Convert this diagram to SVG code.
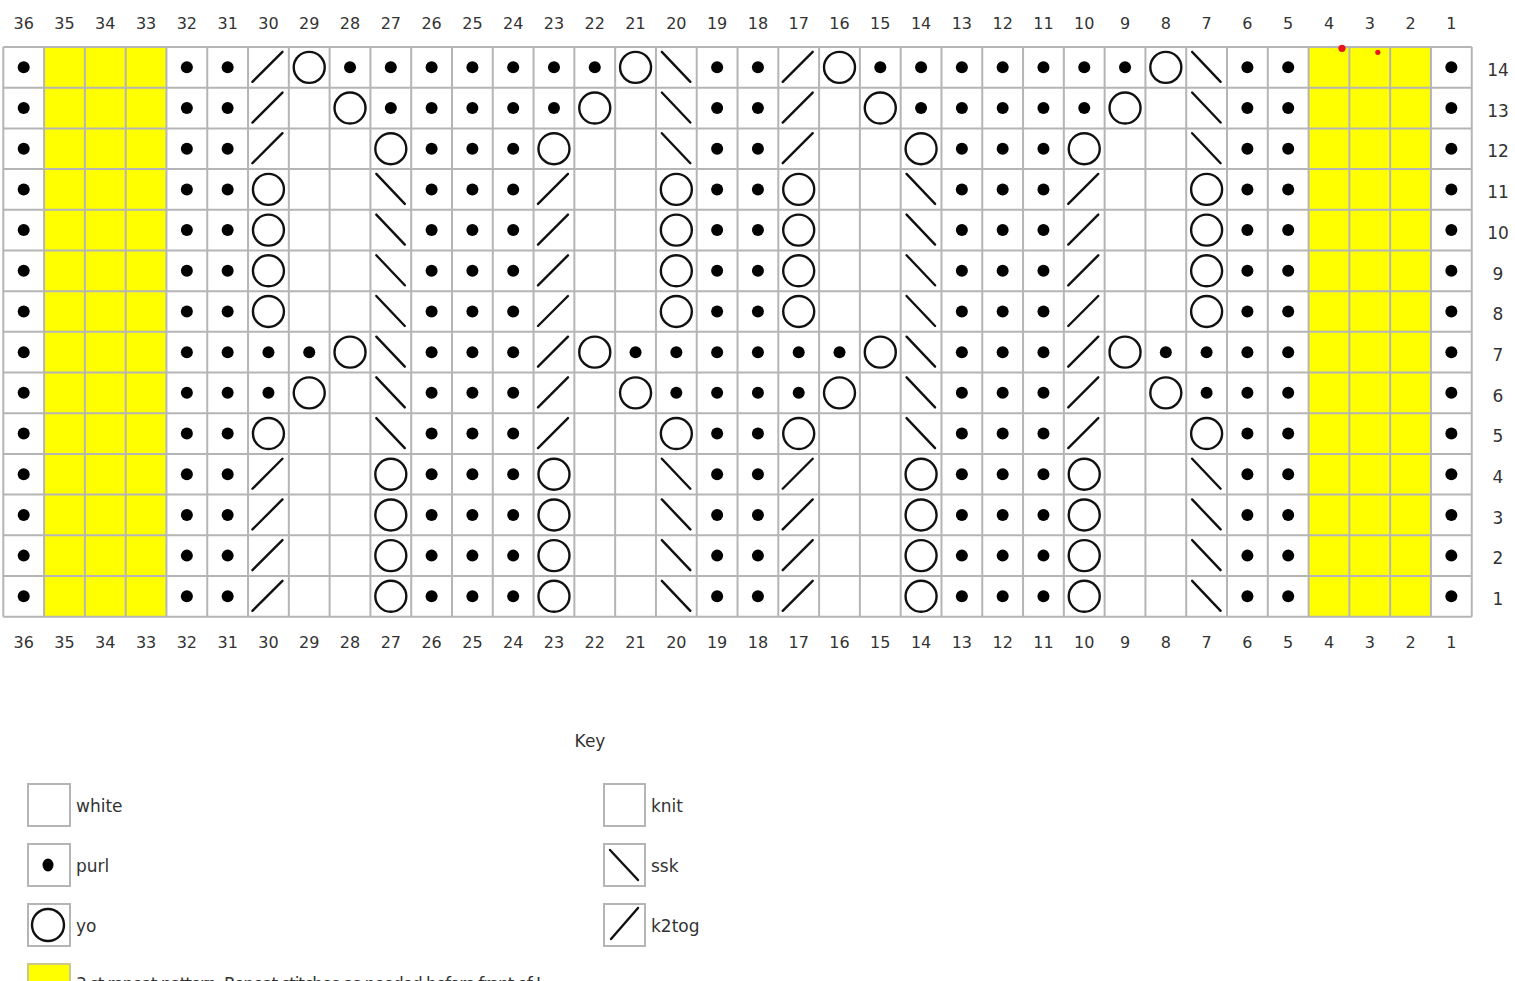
<svg xmlns="http://www.w3.org/2000/svg" xmlns:xlink="http://www.w3.org/1999/xlink" width="1515" height="981" viewBox="0 0 1515 981">
<style>
.num{font-family:"DejaVu Sans","Liberation Sans",sans-serif;font-size:16px;fill:#333;text-anchor:middle}
.rnum{font-size:17px}
.lbl{font-family:"DejaVu Sans","Liberation Sans",sans-serif;font-size:17px;fill:#333}
.grid{fill:none;stroke:#b5b5b5;stroke-width:2}
.sym{fill:none;stroke:#111;stroke-width:2.4;stroke-linecap:round}
.box{fill:#fff;stroke:#b5b5b5;stroke-width:2}
</style>
<defs>
<circle id="p" r="6" fill="#000"/>
<circle id="o" r="15.5" class="sym"/>
<line id="k" x1="-16" y1="14.5" x2="14" y2="-15.5" class="sym"/>
<line id="s" x1="-14.5" y1="-15.5" x2="14" y2="14.5" class="sym"/>
<g id="rowA">
<use href="#p" x="23.7"/><use href="#p" x="186.86"/><use href="#p" x="227.65"/><use href="#k" x="268.44"/><use href="#o" x="390.81"/><use href="#p" x="431.6"/><use href="#p" x="472.39"/><use href="#p" x="513.18"/><use href="#o" x="553.97"/><use href="#s" x="676.34"/><use href="#p" x="717.13"/><use href="#p" x="757.92"/><use href="#k" x="798.71"/><use href="#o" x="921.08"/><use href="#p" x="961.87"/><use href="#p" x="1002.66"/><use href="#p" x="1043.45"/><use href="#o" x="1084.24"/><use href="#s" x="1206.61"/><use href="#p" x="1247.4"/><use href="#p" x="1288.19"/><use href="#p" x="1451.35"/>
</g>
<g id="rowB">
<use href="#p" x="23.7"/><use href="#p" x="186.86"/><use href="#p" x="227.65"/><use href="#o" x="268.44"/><use href="#s" x="390.81"/><use href="#p" x="431.6"/><use href="#p" x="472.39"/><use href="#p" x="513.18"/><use href="#k" x="553.97"/><use href="#o" x="676.34"/><use href="#p" x="717.13"/><use href="#p" x="757.92"/><use href="#o" x="798.71"/><use href="#s" x="921.08"/><use href="#p" x="961.87"/><use href="#p" x="1002.66"/><use href="#p" x="1043.45"/><use href="#k" x="1084.24"/><use href="#o" x="1206.61"/><use href="#p" x="1247.4"/><use href="#p" x="1288.19"/><use href="#p" x="1451.35"/>
</g>
</defs>
<rect width="1515" height="981" fill="#fff"/>

<g id="column-numbers-top" class="num">
<text x="23.7" y="28.5">36</text><text x="64.49" y="28.5">35</text><text x="105.28" y="28.5">34</text><text x="146.07" y="28.5">33</text><text x="186.86" y="28.5">32</text><text x="227.65" y="28.5">31</text><text x="268.44" y="28.5">30</text><text x="309.23" y="28.5">29</text><text x="350.02" y="28.5">28</text><text x="390.81" y="28.5">27</text><text x="431.6" y="28.5">26</text><text x="472.39" y="28.5">25</text><text x="513.18" y="28.5">24</text><text x="553.97" y="28.5">23</text><text x="594.76" y="28.5">22</text><text x="635.55" y="28.5">21</text><text x="676.34" y="28.5">20</text><text x="717.13" y="28.5">19</text><text x="757.92" y="28.5">18</text><text x="798.71" y="28.5">17</text><text x="839.5" y="28.5">16</text><text x="880.29" y="28.5">15</text><text x="921.08" y="28.5">14</text><text x="961.87" y="28.5">13</text><text x="1002.66" y="28.5">12</text><text x="1043.45" y="28.5">11</text><text x="1084.24" y="28.5">10</text><text x="1125.03" y="28.5">9</text><text x="1165.82" y="28.5">8</text><text x="1206.61" y="28.5">7</text><text x="1247.4" y="28.5">6</text><text x="1288.19" y="28.5">5</text><text x="1328.98" y="28.5">4</text><text x="1369.77" y="28.5">3</text><text x="1410.56" y="28.5">2</text><text x="1451.35" y="28.5">1</text>
</g>
<g id="column-numbers-bottom" class="num">
<text x="23.7" y="648">36</text><text x="64.49" y="648">35</text><text x="105.28" y="648">34</text><text x="146.07" y="648">33</text><text x="186.86" y="648">32</text><text x="227.65" y="648">31</text><text x="268.44" y="648">30</text><text x="309.23" y="648">29</text><text x="350.02" y="648">28</text><text x="390.81" y="648">27</text><text x="431.6" y="648">26</text><text x="472.39" y="648">25</text><text x="513.18" y="648">24</text><text x="553.97" y="648">23</text><text x="594.76" y="648">22</text><text x="635.55" y="648">21</text><text x="676.34" y="648">20</text><text x="717.13" y="648">19</text><text x="757.92" y="648">18</text><text x="798.71" y="648">17</text><text x="839.5" y="648">16</text><text x="880.29" y="648">15</text><text x="921.08" y="648">14</text><text x="961.87" y="648">13</text><text x="1002.66" y="648">12</text><text x="1043.45" y="648">11</text><text x="1084.24" y="648">10</text><text x="1125.03" y="648">9</text><text x="1165.82" y="648">8</text><text x="1206.61" y="648">7</text><text x="1247.4" y="648">6</text><text x="1288.19" y="648">5</text><text x="1328.98" y="648">4</text><text x="1369.77" y="648">3</text><text x="1410.56" y="648">2</text><text x="1451.35" y="648">1</text>
</g>
<g id="row-numbers" class="num rnum">
<text x="1498" y="76">14</text><text x="1498" y="116.7">13</text><text x="1498" y="157.4">12</text><text x="1498" y="198.1">11</text><text x="1498" y="238.8">10</text><text x="1498" y="279.5">9</text><text x="1498" y="320.2">8</text><text x="1498" y="360.9">7</text><text x="1498" y="401.6">6</text><text x="1498" y="442.3">5</text><text x="1498" y="483">4</text><text x="1498" y="523.7">3</text><text x="1498" y="564.4">2</text><text x="1498" y="605.1">1</text>
</g>

<g id="chart">
<rect x="3.3" y="47" width="1468.44" height="569.66" fill="#fff"/>
<rect x="44.09" y="47" width="122.37" height="569.66" fill="#ffff00"/>
<rect x="1308.58" y="47" width="122.37" height="569.66" fill="#ffff00"/>
<path class="grid" d="M3.3 47V616.66M44.09 47V616.66M84.88 47V616.66M125.67 47V616.66M166.46 47V616.66M207.25 47V616.66M248.04 47V616.66M288.83 47V616.66M329.62 47V616.66M370.41 47V616.66M411.2 47V616.66M451.99 47V616.66M492.78 47V616.66M533.57 47V616.66M574.36 47V616.66M615.15 47V616.66M655.94 47V616.66M696.73 47V616.66M737.52 47V616.66M778.31 47V616.66M819.1 47V616.66M859.89 47V616.66M900.68 47V616.66M941.47 47V616.66M982.26 47V616.66M1023.05 47V616.66M1063.84 47V616.66M1104.63 47V616.66M1145.42 47V616.66M1186.21 47V616.66M1227 47V616.66M1267.79 47V616.66M1308.58 47V616.66M1349.37 47V616.66M1390.16 47V616.66M1430.95 47V616.66M1471.74 47V616.66M3.3 47H1471.74M3.3 87.69H1471.74M3.3 128.38H1471.74M3.3 169.07H1471.74M3.3 209.76H1471.74M3.3 250.45H1471.74M3.3 291.14H1471.74M3.3 331.83H1471.74M3.3 372.52H1471.74M3.3 413.21H1471.74M3.3 453.9H1471.74M3.3 494.59H1471.74M3.3 535.28H1471.74M3.3 575.97H1471.74M3.3 616.66H1471.74"/>

<g id="row-14" transform="translate(0,67.35)">
<use href="#p" x="23.7"/><use href="#p" x="186.86"/><use href="#p" x="227.65"/><use href="#k" x="268.44"/><use href="#o" x="309.23"/><use href="#p" x="350.02"/><use href="#p" x="390.81"/><use href="#p" x="431.6"/><use href="#p" x="472.39"/><use href="#p" x="513.18"/><use href="#p" x="553.97"/><use href="#p" x="594.76"/><use href="#o" x="635.55"/><use href="#s" x="676.34"/><use href="#p" x="717.13"/><use href="#p" x="757.92"/><use href="#k" x="798.71"/><use href="#o" x="839.5"/><use href="#p" x="880.29"/><use href="#p" x="921.08"/><use href="#p" x="961.87"/><use href="#p" x="1002.66"/><use href="#p" x="1043.45"/><use href="#p" x="1084.24"/><use href="#p" x="1125.03"/><use href="#o" x="1165.82"/><use href="#s" x="1206.61"/><use href="#p" x="1247.4"/><use href="#p" x="1288.19"/><use href="#p" x="1451.35"/>
</g>
<g id="row-13" transform="translate(0,108.03)">
<use href="#p" x="23.7"/><use href="#p" x="186.86"/><use href="#p" x="227.65"/><use href="#k" x="268.44"/><use href="#o" x="350.02"/><use href="#p" x="390.81"/><use href="#p" x="431.6"/><use href="#p" x="472.39"/><use href="#p" x="513.18"/><use href="#p" x="553.97"/><use href="#o" x="594.76"/><use href="#s" x="676.34"/><use href="#p" x="717.13"/><use href="#p" x="757.92"/><use href="#k" x="798.71"/><use href="#o" x="880.29"/><use href="#p" x="921.08"/><use href="#p" x="961.87"/><use href="#p" x="1002.66"/><use href="#p" x="1043.45"/><use href="#p" x="1084.24"/><use href="#o" x="1125.03"/><use href="#s" x="1206.61"/><use href="#p" x="1247.4"/><use href="#p" x="1288.19"/><use href="#p" x="1451.35"/>
</g>
<use id="row-12" href="#rowA" y="148.72"/>
<use id="row-11" href="#rowB" y="189.41"/>
<use id="row-10" href="#rowB" y="230.1"/>
<use id="row-9" href="#rowB" y="270.79"/>
<use id="row-8" href="#rowB" y="311.48"/>
<g id="row-7" transform="translate(0,352.17)">
<use href="#p" x="23.7"/><use href="#p" x="186.86"/><use href="#p" x="227.65"/><use href="#p" x="268.44"/><use href="#p" x="309.23"/><use href="#o" x="350.02"/><use href="#s" x="390.81"/><use href="#p" x="431.6"/><use href="#p" x="472.39"/><use href="#p" x="513.18"/><use href="#k" x="553.97"/><use href="#o" x="594.76"/><use href="#p" x="635.55"/><use href="#p" x="676.34"/><use href="#p" x="717.13"/><use href="#p" x="757.92"/><use href="#p" x="798.71"/><use href="#p" x="839.5"/><use href="#o" x="880.29"/><use href="#s" x="921.08"/><use href="#p" x="961.87"/><use href="#p" x="1002.66"/><use href="#p" x="1043.45"/><use href="#k" x="1084.24"/><use href="#o" x="1125.03"/><use href="#p" x="1165.82"/><use href="#p" x="1206.61"/><use href="#p" x="1247.4"/><use href="#p" x="1288.19"/><use href="#p" x="1451.35"/>
</g>
<g id="row-6" transform="translate(0,392.86)">
<use href="#p" x="23.7"/><use href="#p" x="186.86"/><use href="#p" x="227.65"/><use href="#p" x="268.44"/><use href="#o" x="309.23"/><use href="#s" x="390.81"/><use href="#p" x="431.6"/><use href="#p" x="472.39"/><use href="#p" x="513.18"/><use href="#k" x="553.97"/><use href="#o" x="635.55"/><use href="#p" x="676.34"/><use href="#p" x="717.13"/><use href="#p" x="757.92"/><use href="#p" x="798.71"/><use href="#o" x="839.5"/><use href="#s" x="921.08"/><use href="#p" x="961.87"/><use href="#p" x="1002.66"/><use href="#p" x="1043.45"/><use href="#k" x="1084.24"/><use href="#o" x="1165.82"/><use href="#p" x="1206.61"/><use href="#p" x="1247.4"/><use href="#p" x="1288.19"/><use href="#p" x="1451.35"/>
</g>
<use id="row-5" href="#rowB" y="433.55"/>
<use id="row-4" href="#rowA" y="474.24"/>
<use id="row-3" href="#rowA" y="514.93"/>
<use id="row-2" href="#rowA" y="555.62"/>
<use id="row-1" href="#rowA" y="596.31"/>
<circle cx="1342" cy="48.3" r="3.6" fill="#e8141c"/>
<circle cx="1377.8" cy="52.3" r="2.6" fill="#e8141c"/>
</g>

<g id="key">
<text class="lbl" x="590" y="747" text-anchor="middle">Key</text>
<g id="key-white"><rect class="box" x="28" y="784" width="42" height="42"/><text class="lbl" x="76" y="811.5">white</text></g>
<g id="key-purl"><rect class="box" x="28" y="844" width="42" height="42"/><ellipse cx="48" cy="865" rx="5.5" ry="6.5" fill="#000"/><text class="lbl" x="76" y="871.5">purl</text></g>
<g id="key-yo"><rect class="box" x="28" y="904" width="42" height="42"/><circle cx="48" cy="925" r="16" class="sym"/><text class="lbl" x="76" y="931.5">yo</text></g>
<g id="key-knit"><rect class="box" x="604" y="784" width="41" height="42"/><text class="lbl" x="651" y="811.5">knit</text></g>
<g id="key-ssk"><rect class="box" x="604" y="844" width="41" height="42"/><line x1="610" y1="850" x2="638" y2="880" class="sym"/><text class="lbl" x="651" y="871.5">ssk</text></g>
<g id="key-k2tog"><rect class="box" x="604" y="904" width="41" height="42"/><line x1="638" y1="908" x2="611" y2="939" class="sym"/><text class="lbl" x="651" y="931.5">k2tog</text></g>
<g id="key-yellow"><rect x="28" y="964" width="42" height="42" fill="#ffff00" stroke="#c9c98a" stroke-width="2"/><text class="lbl" x="76" y="990" textLength="465" lengthAdjust="spacing">3 st repeat pattern.  Repeat stitches as needed before front of I</text></g>
</g>
</svg>
